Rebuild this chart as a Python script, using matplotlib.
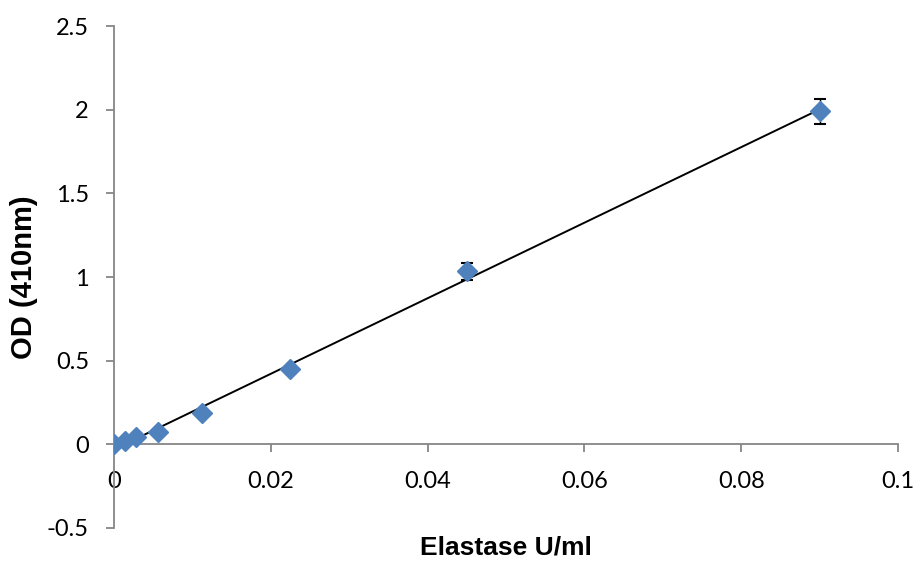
import numpy as np
from matplotlib import pyplot as plt

# elastase standard curve
conc = [0, 0.00140625, 0.0028125, 0.005625, 0.01125, 0.0225, 0.045, 0.09]
od = [0.0, 0.018, 0.042, 0.072, 0.185, 0.45, 1.035, 1.99]
od_err = [0, 0, 0, 0, 0, 0, 0.05, 0.075]

x_ticks = [0, 0.02, 0.04, 0.06, 0.08, 0.1]
x_labels = ["0", "0.02", "0.04", "0.06", "0.08", "0.1"]
y_ticks = [-0.5, 0, 0.5, 1, 1.5, 2, 2.5]
y_labels = ["-0.5", "0", "0.5", "1", "1.5", "2", "2.5"]

fig = plt.figure(figsize=(9.16, 5.61), dpi=100)
ax = fig.add_axes([114/916, 1 - 528/561, (898-114)/916, (528-26)/561])

# linear trendline
slope, icpt = np.polyfit(conc, od, 1)
xl = np.array([0, max(conc)])
ax.plot(xl, slope*xl + icpt, color="black", lw=1.4, zorder=2)

ax.errorbar(conc, od, yerr=od_err, fmt="none", ecolor="black", elinewidth=1,
            capsize=4.5, capthick=1.5, zorder=3)
ax.plot(conc, od, linestyle="none", marker="D", markersize=10.5,
        color="#4F81BD", markeredgecolor="#4F81BD", zorder=4)

ax.set_xlim(0, 0.1)
ax.set_ylim(-0.5, 2.5)
ax.spines["top"].set_visible(False)
ax.spines["right"].set_visible(False)
ax.spines["bottom"].set_position(("data", 0))
for s in ("left", "bottom"):
    ax.spines[s].set_color("#868686")
    ax.spines[s].set_linewidth(1.3)

ax.set_xticks(x_ticks)
ax.set_xticklabels(x_labels, family="Lato", fontsize=17)
ax.set_yticks(y_ticks)
ax.set_yticklabels(y_labels, family="Lato", fontsize=17)
ax.tick_params(axis="both", color="#868686", length=6, width=1.3)
ax.tick_params(axis="x", pad=13)
ax.tick_params(axis="y", pad=12)
ax.set_xlabel("Elastase U/ml", family="Liberation Sans", fontweight="bold", fontsize=19)
ax.set_ylabel("OD (410nm)", family="Liberation Sans", fontweight="bold", fontsize=21)
ax.xaxis.set_label_coords(0.5, -0.014)
ax.yaxis.set_label_coords(-0.097, 0.5)

fig.savefig("out.png", dpi=100)
